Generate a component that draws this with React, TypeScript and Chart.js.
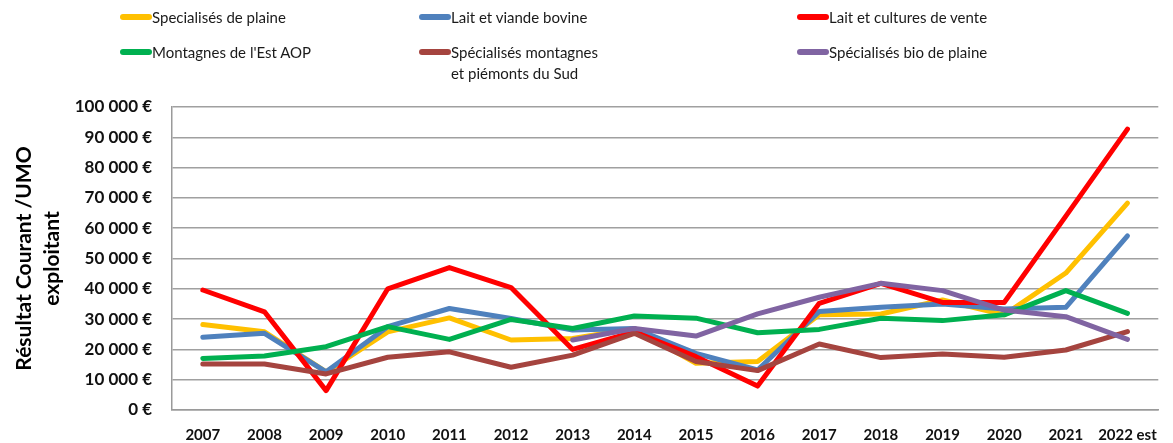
import React, { useEffect, useRef } from "react";
import { Chart, registerables } from "chart.js";

Chart.register(...registerables);

const years = ["2007", "2008", "2009", "2010", "2011", "2012", "2013", "2014", "2015", "2016", "2017", "2018", "2019", "2020", "2021", "2022 est"];

const specialisesPlaine = [28200, 25800, 12600, 25800, 30400, 23100, 23600, 26900, 15400, 16000, 31400, 31700, 36300, 31400, 45200, 68300];
const laitViandeBovine = [24000, 25300, 12600, 27500, 33500, 30200, 26400, 26900, 18700, 13200, 32500, 33900, 35000, 33300, 33900, 57500];
const laitCulturesVente = [39600, 32400, 6400, 40000, 47000, 40400, 20000, 25800, 17600, 7900, 35200, 41800, 35500, 35500, 64000, 92700];
const montagnesEstAOP = [17000, 17800, 20900, 27500, 23300, 29900, 26900, 31000, 30300, 25500, 26600, 30300, 29500, 31400, 39400, 31900];
const montagnesPiemontsSud = [15200, 15200, 11900, 17400, 19200, 14100, 18100, 25300, 16000, 13000, 21800, 17300, 18500, 17400, 19800, 25900];
const bioPlaine = [null, null, null, null, null, null, 23100, 26900, 24400, 31700, 37200, 41800, 39400, 33000, 30800, 23300];

const yTicksMin = 0;
const yTicksMax = 100000;
const yTicksStep = 10000;

const seriesNames = [
  "Specialisés de plaine",
  "Lait et viande bovine",
  "Lait et cultures de vente",
  "Montagnes de l'Est AOP",
  "Spécialisés montagnes\net piémonts du Sud",
  "Spécialisés bio de plaine",
];
const seriesColors = ["#FFC000", "#4F81BD", "#FF0000", "#00B050", "#A5443F", "#8064A2"];
const seriesData = [specialisesPlaine, laitViandeBovine, laitCulturesVente, montagnesEstAOP, montagnesPiemontsSud, bioPlaine];

const FONT = "Lato, 'Open Sans', sans-serif";

const legendPos = [
  { x: 120, y: 17 },
  { x: 419, y: 17 },
  { x: 797, y: 17 },
  { x: 120, y: 52 },
  { x: 419, y: 52 },
  { x: 797, y: 52 },
];

function fmt(v: number) {
  return String(v).replace(/\B(?=(\d{3})+(?!\d))/g, " ") + " €";
}

export default function App() {
  const canvasRef = useRef<HTMLCanvasElement | null>(null);

  useEffect(() => {
    if (!canvasRef.current) return;
    const chart = new Chart(canvasRef.current, {
      type: "line",
      data: {
        labels: years,
        datasets: seriesData.map((d, i) => ({
          label: seriesNames[i],
          data: d,
          borderColor: seriesColors[i],
          backgroundColor: seriesColors[i],
          borderWidth: 5,
          pointRadius: 0,
          tension: 0,
          borderCapStyle: "round" as const,
          borderJoinStyle: "round" as const,
          order: 5 - i,
        })),
      },
      options: {
        animation: false,
        responsive: true,
        maintainAspectRatio: false,
        layout: { padding: { top: 107, right: 7, left: 0, bottom: 0 } },
        plugins: { legend: { display: false }, tooltip: { enabled: false } },
        scales: {
          x: {
            type: "category",
            offset: true,
            grid: { display: false, drawTicks: false },
            border: { display: true, color: "#9a9a9a", width: 1.5 },
            ticks: {
              color: "#111",
              font: { family: FONT, size: 15, weight: "bold" },
              padding: 16,
              maxRotation: 0,
              autoSkip: false,
            },
            afterFit: (s: any) => {
              s.height = 33;
            },
          },
          y: {
            min: yTicksMin,
            max: yTicksMax,
            grid: { color: "#a0a0a0", lineWidth: 1.5, drawTicks: false },
            border: { display: true, color: "#9a9a9a", width: 1.5 },
            ticks: {
              stepSize: yTicksStep,
              color: "#111",
              font: { family: FONT, size: 17, weight: "bold" },
              padding: 20,
              callback: (v: any) => fmt(Number(v)),
            },
            title: {
              display: true,
              text: ["Résultat Courant /UMO", "exploitant"],
              color: "#000",
              font: { family: FONT, size: 21, weight: "bold", lineHeight: 1.3 },
              padding: { top: 11, bottom: 0 },
            },
            afterFit: (s: any) => {
              s.width = 172;
            },
          },
        },
      },
    });
    return () => chart.destroy();
  }, []);

  return (
    <div style={{ position: "absolute", left: 0, top: 0, width: 1173, height: 443, background: "#fff" }}>
      <canvas ref={canvasRef} />
      {seriesNames.map((name, i) => {
        const p = legendPos[i];
        return (
          <React.Fragment key={i}>
            <div
              style={{
                position: "absolute",
                left: p.x,
                top: p.y - 3,
                width: 32,
                height: 6,
                borderRadius: 3,
                background: seriesColors[i],
              }}
            />
            <div
              style={{
                position: "absolute",
                left: p.x + 32,
                top: p.y - 10.5,
                fontFamily: FONT,
                fontSize: 15,
                lineHeight: "21px",
                color: "#1a1a1a",
                whiteSpace: "pre",
              }}
            >
              {name}
            </div>
          </React.Fragment>
        );
      })}
    </div>
  );
}
